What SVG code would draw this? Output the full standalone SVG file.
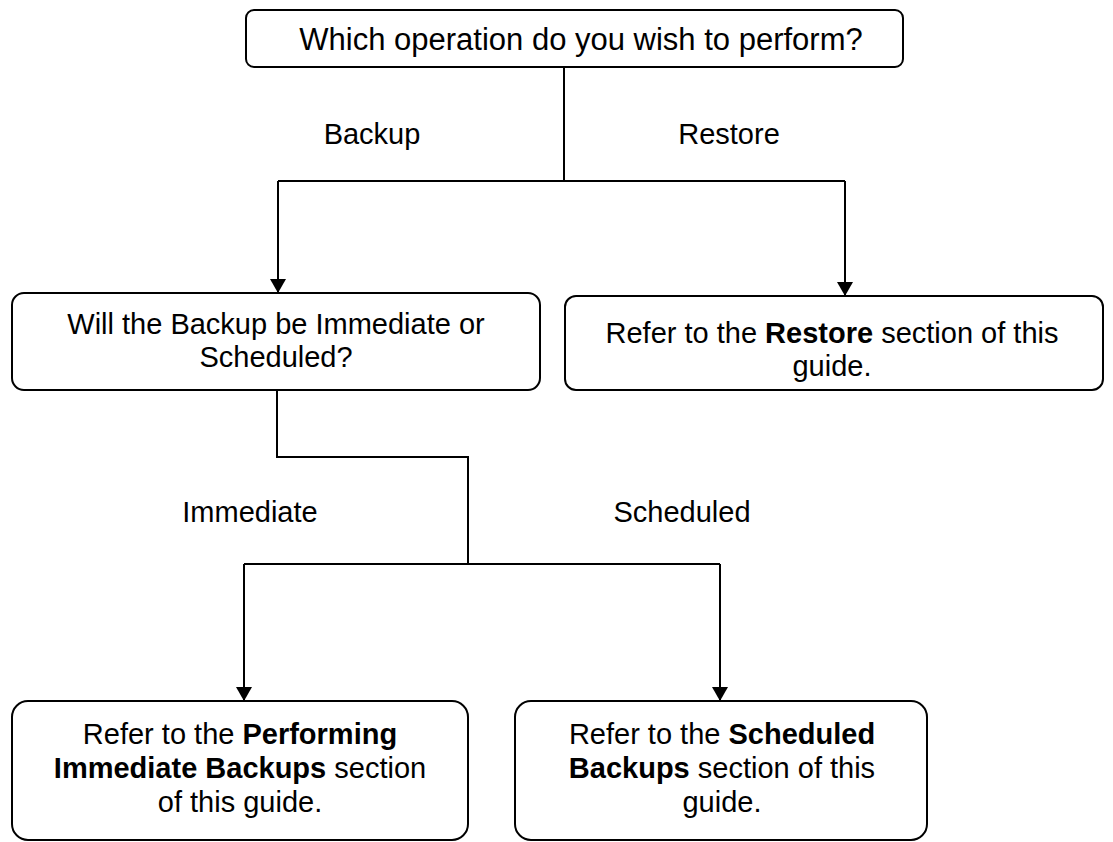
<svg xmlns="http://www.w3.org/2000/svg" width="1113" height="842" viewBox="0 0 1113 842">
<style>
.box{fill:#fff;stroke:#000;stroke-width:2}
.ln{fill:none;stroke:#000;stroke-width:2}
text{font-family:"Liberation Sans",Arial,sans-serif;fill:#000;text-anchor:middle}
.t31{font-size:31px}
.t29{font-size:29px}
.b{font-weight:bold}
</style>
<defs>
<marker id="ah" viewBox="0 0 14 16" refX="14" refY="8" markerWidth="14" markerHeight="16" orient="auto" markerUnits="userSpaceOnUse">
<path d="M0,0 L14,8 L0,16 Z" fill="#000"/>
</marker>
</defs>
<g id="connectors">
<path class="ln" d="M564,67 V181"/>
<path class="ln" d="M278,181 H845"/>
<path class="ln" d="M278,181 V293" marker-end="url(#ah)"/>
<path class="ln" d="M845,181 V296" marker-end="url(#ah)"/>
<path class="ln" d="M277,390 V457 H468 V564"/>
<path class="ln" d="M244,564 H720"/>
<path class="ln" d="M244,564 V701" marker-end="url(#ah)"/>
<path class="ln" d="M720,564 V701" marker-end="url(#ah)"/>
</g>
<g id="label-backup"><text class="t29" x="372" y="144">Backup</text></g>
<g id="label-restore"><text class="t29" x="729" y="144">Restore</text></g>
<g id="label-immediate"><text class="t29" x="250" y="522">Immediate</text></g>
<g id="label-scheduled"><text class="t29" x="682" y="522">Scheduled</text></g>
<g id="node-operation">
<rect class="box" x="246" y="10" width="657" height="57" rx="8"/>
<text class="t31" x="581" y="50">Which operation do you wish to perform?</text>
</g>
<g id="node-backup-type">
<rect class="box" x="12" y="293" width="528" height="97" rx="12"/>
<text class="t29" x="276" y="334">Will the Backup be Immediate or</text>
<text class="t29" x="276" y="367">Scheduled?</text>
</g>
<g id="node-restore">
<rect class="box" x="565" y="296" width="538" height="94" rx="11"/>
<text class="t29" x="832" y="343">Refer to the <tspan class="b">Restore</tspan> section of this</text>
<text class="t29" x="832" y="376">guide.</text>
</g>
<g id="node-immediate">
<rect class="box" x="12" y="701" width="456" height="139" rx="16"/>
<text class="t29" x="240" y="744">Refer to the <tspan class="b">Performing</tspan></text>
<text class="t29" x="240" y="778"><tspan class="b">Immediate Backups</tspan> section</text>
<text class="t29" x="240" y="812">of this guide.</text>
</g>
<g id="node-scheduled">
<rect class="box" x="515" y="701" width="412" height="139" rx="16"/>
<text class="t29" x="722" y="744">Refer to the <tspan class="b">Scheduled</tspan></text>
<text class="t29" x="722" y="778"><tspan class="b">Backups</tspan> section of this</text>
<text class="t29" x="722" y="812">guide.</text>
</g>
</svg>
